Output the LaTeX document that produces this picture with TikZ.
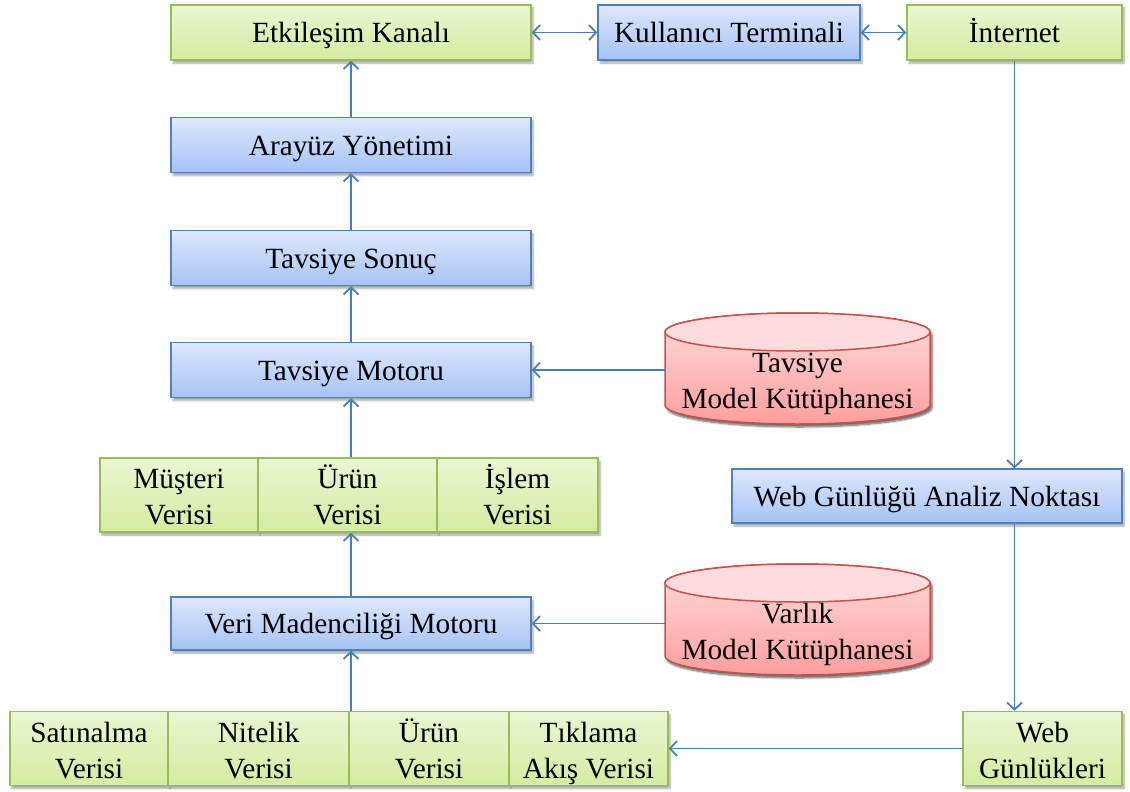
\documentclass[tikz,border=0pt]{standalone}
\usepackage{fontspec}
\setmainfont{Liberation Serif}
\usetikzlibrary{arrows.meta,shadows.blur}
\definecolor{grnB}{HTML}{9BBB59}
\definecolor{grnT}{HTML}{EAF6D2}
\definecolor{grnD}{HTML}{D3EDA0}
\definecolor{bluB}{HTML}{4F81BD}
\definecolor{bluT}{HTML}{DDE8FC}
\definecolor{bluD}{HTML}{A6C3F5}
\definecolor{redB}{HTML}{C9504D}
\definecolor{redT}{HTML}{FFDCDC}
\definecolor{redD}{HTML}{FF9E9E}
\definecolor{lnk}{HTML}{4A7EBB}
% two-line label with fixed line struts so all rows share baselines
\newcommand\twoline[2]{\rule{0pt}{30pt}#1\\#2\rule[-7pt]{0pt}{7pt}}
\begin{document}
\begin{tikzpicture}[x=1pt,y=-1pt,
  font=\fontsize{29.3}{36}\selectfont,
  shade/.style={blur shadow={shadow xshift=2pt,shadow yshift=-3pt,shadow blur steps=6,shadow opacity=35}},
  box/.style={rectangle,inner sep=0pt,line width=1.5pt,align=center,shade},
  gbox/.style={box,draw=grnB,top color=grnT,bottom color=grnD},
  bbox/.style={box,draw=bluB,top color=bluT,bottom color=bluD},
  one/.style={text height=27pt,text depth=7pt},
  wide/.style={minimum width=360pt,minimum height=55pt,one},
  tip/.tip={Straight Barb[length=7pt,width=15pt]},
  link/.style={draw=lnk,line width=1.8pt},
  arr/.style={link,-tip},
  darr/.style={link,tip-tip},
  cylwall/.style={draw=redB,line width=1.5pt,top color=redT,bottom color=redD,shade},
  cyltop/.style={draw=redB,line width=1.5pt,fill=redT},
]
\useasboundingbox (0,0) rectangle (1130,792);

% top row
\node[gbox,wide] (ek) at (351,32.5) {Etkileşim Kanalı};
\node[bbox,one,minimum width=262pt,minimum height=55pt] (kt) at (729,32.5) {Kullanıcı Terminali};
\node[gbox,one,minimum width=215pt,minimum height=55pt] (int) at (1014.5,32.5) {İnternet};

% left column
\node[bbox,wide] (ay) at (351,145) {Arayüz Yönetimi};
\node[bbox,wide] (ts) at (351,258) {Tavsiye Sonuç};
\node[bbox,wide] (tm) at (351,370) {Tavsiye Motoru};

% data row in the middle
\node[gbox,minimum width=158pt,minimum height=74pt] (mus) at (179,495) {\twoline{Müşteri}{Verisi}};
\node[gbox,minimum width=179pt,minimum height=74pt] (ur1) at (347.5,495) {\twoline{Ürün}{Verisi}};
\node[gbox,minimum width=161pt,minimum height=74pt] (isl) at (517.5,495) {\twoline{İşlem}{Verisi}};

\node[bbox,wide,minimum height=53pt] (vmm) at (351,623.5) {Veri Madenciliği Motoru};

% data row at the bottom
\node[gbox,minimum width=158pt,minimum height=74pt] (sat) at (89,748.5) {\twoline{Satınalma}{Verisi}};
\node[gbox,minimum width=181pt,minimum height=74pt] (nit) at (258.5,748.5) {\twoline{Nitelik}{Verisi}};
\node[gbox,minimum width=160pt,minimum height=74pt] (ur2) at (429,748.5) {\twoline{Ürün}{Verisi}};
\node[gbox,minimum width=159pt,minimum height=74pt] (tik) at (588.5,748.5) {\twoline{Tıklama}{Akış Verisi}};

% right column
\node[bbox,one,minimum width=390pt,minimum height=54pt] (wan) at (927,496) {Web Günlüğü Analiz Noktası};
\node[gbox,minimum width=159pt,minimum height=74pt] (wg) at (1042.5,748.5) {\twoline{Web}{Günlükleri}};

% model libraries (cylinders)
\shadedraw[cylwall] (665,332) -- (665,405)
  arc[start angle=180,end angle=0,x radius=132.5,y radius=19] -- (930,332)
  arc[start angle=0,end angle=-180,x radius=132.5,y radius=19] -- cycle;
\filldraw[cyltop] (797.5,332) ellipse[x radius=132.5,y radius=19];
\node[inner sep=0pt,minimum width=265pt,minimum height=92pt] (tml) at (797.5,370) {};
\node[align=center,inner sep=0pt] at (797.5,378.5) {\twoline{Tavsiye}{Model Kütüphanesi}};

\shadedraw[cylwall] (665,583) -- (665,656)
  arc[start angle=180,end angle=0,x radius=132.5,y radius=19] -- (930,583)
  arc[start angle=0,end angle=-180,x radius=132.5,y radius=19] -- cycle;
\filldraw[cyltop] (797.5,583) ellipse[x radius=132.5,y radius=19];
\node[inner sep=0pt,minimum width=265pt,minimum height=92pt] (vml) at (797.5,623.5) {};
\node[align=center,inner sep=0pt] at (797.5,630) {\twoline{Varlık}{Model Kütüphanesi}};

% connectors
\draw[darr] (ek.east) -- (kt.west);
\draw[darr] (kt.east) -- (int.west);
\draw[arr] (ay.north) -- (ek.south);
\draw[arr] (ts.north) -- (ay.south);
\draw[arr] (tm.north) -- (ts.south);
\draw[arr] (tm.south |- ur1.north) -- (tm.south);
\draw[arr] (vmm.north) -- (vmm.north |- ur1.south);
\draw[arr] (vmm.south |- nit.north) -- (vmm.south);
\draw[arr] (tml.west) -- (tm.east);
\draw[arr] (vml.west) -- (vmm.east);
\draw[arr] (int.south) -- (int.south |- wan.north);
\draw[arr] (int.south |- wan.south) -- (int.south |- wg.north);
\draw[arr] (wg.west) -- (tik.east);
\end{tikzpicture}
\end{document}
